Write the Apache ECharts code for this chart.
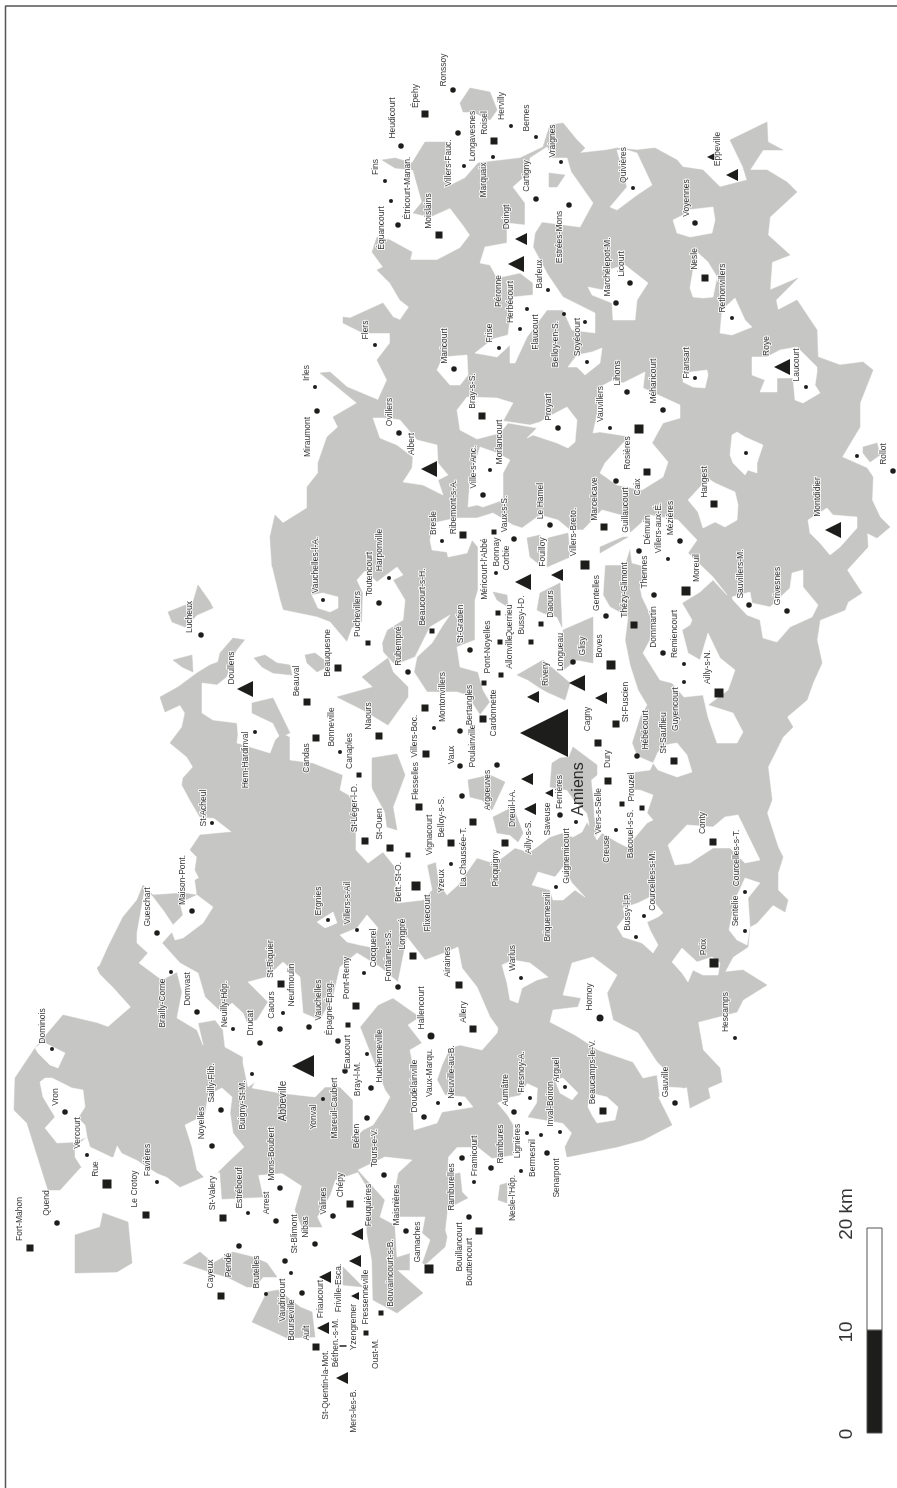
<!DOCTYPE html>
<html>
<head>
<meta charset="utf-8">
<style>
  html, body { margin: 0; padding: 0; background: #fff; }
  #map { width: 897px; height: 1488px; }
</style>
<script src="https://cdn.jsdelivr.net/npm/echarts@6/dist/echarts.min.js"></script>
</head>
<body>
<div id="map"></div>
<script>

// gray land, main outline
const landOutline = [[14,1110],[15,1078],[35,1048],[63,1015],[97,1023],[108,1027],[131,1007],[113,987],[100,974],[97,968],[100,965],[108,947],[123,917],[137,900],[143,885],[153,895],[183,893],[197,895],[195,880],[199,878],[195,870],[197,857],[190,850],[200,835],[232,832],[214,818],[200,817],[190,800],[182,785],[183,778],[193,767],[187,757],[170,743],[182,727],[185,713],[180,705],[165,712],[160,697],[178,687],[197,673],[210,665],[218,662],[220,653],[233,638],[245,640],[272,567],[270,537],[275,515],[283,523],[307,508],[307,487],[318,473],[318,463],[327,437],[338,427],[333,417],[357,403],[335,385],[320,373],[330,372],[347,387],[378,400],[387,380],[377,360],[390,343],[390,333],[363,333],[343,323],[343,317],[350,318],[383,303],[393,317],[400,320],[409,307],[400,300],[390,283],[377,270],[383,267],[372,252],[377,237],[390,240],[412,252],[410,260],[437,260],[460,248],[470,235],[463,225],[450,208],[430,217],[413,213],[422,202],[413,170],[395,168],[382,160],[395,158],[412,163],[425,142],[447,142],[447,187],[465,178],[478,163],[520,158],[543,147],[550,125],[563,123],[577,140],[585,148],[580,153],[607,150],[617,148],[637,150],[655,148],[677,160],[683,167],[703,170],[720,187],[747,180],[743,167],[730,140],[767,122],[768,142],[783,150],[763,150],[750,170],[767,170],[787,182],[797,192],[770,217],[768,235],[790,255],[772,262],[770,290],[798,278],[776,300],[778,310],[797,300],[817,330],[818,357],[840,365],[863,362],[873,370],[860,403],[860,427],[842,457],[867,468],[873,477],[872,500],[880,517],[890,527],[877,538],[867,533],[868,547],[847,570],[862,593],[848,602],[845,610],[820,620],[817,640],[822,663],[813,683],[807,700],[787,717],[793,727],[783,737],[768,767],[772,800],[767,813],[778,847],[783,857],[778,873],[778,890],[788,900],[785,912],[773,905],[757,923],[750,927],[748,947],[733,957],[725,972],[743,970],[767,985],[743,1000],[737,1012],[698,1022],[703,1050],[720,1068],[722,1082],[708,1088],[710,1098],[690,1108],[687,1087],[658,1097],[672,1125],[643,1140],[617,1147],[567,1157],[565,1147],[572,1133],[563,1123],[528,1117],[537,1103],[538,1088],[527,1083],[520,1095],[510,1097],[497,1103],[507,1115],[513,1125],[513,1155],[492,1158],[478,1147],[457,1147],[448,1157],[447,1190],[447,1213],[445,1230],[447,1237],[445,1247],[427,1263],[410,1270],[397,1270],[423,1293],[397,1313],[373,1300],[372,1260],[367,1233],[366,1215],[372,1195],[358,1172],[335,1180],[330,1195],[317,1217],[322,1227],[302,1227],[295,1210],[302,1186],[282,1173],[258,1175],[263,1197],[222,1199],[220,1172],[203,1177],[180,1187],[167,1177],[157,1173],[137,1160],[122,1153],[117,1145],[113,1157],[97,1160],[80,1168],[60,1190],[48,1190],[37,1155],[27,1123]]

// white clearings cut out of the land
const clearingDominois = [[35,1048],[43,1042],[65,1053],[58,1068],[50,1065],[38,1053]]
const clearingVron = [[40,1082],[45,1078],[52,1078],[72,1088],[83,1090],[85,1107],[78,1118],[85,1125],[87,1137],[75,1142],[57,1143],[45,1128],[55,1117],[43,1097]]
const clearingRue = [[75,1147],[87,1137],[90,1147],[113,1158],[97,1160],[82,1168],[75,1157]]
const clearingNoyelles = [[185,1125],[205,1115],[208,1095],[222,1088],[232,1097],[230,1113],[233,1133],[244,1147],[227,1163],[217,1173],[205,1178],[197,1170],[192,1147]]
const clearingAbbeville = [[145,888],[153,897],[163,910],[173,925],[183,915],[180,903],[197,895],[213,907],[203,923],[183,938],[175,940],[172,932],[162,943],[180,963],[198,973],[205,997],[222,1013],[232,1003],[243,1013],[247,1023],[257,1020],[268,1002],[248,982],[267,977],[283,962],[300,977],[303,1013],[320,1020],[333,997],[340,967],[357,953],[380,967],[398,982],[407,937],[425,960],[447,952],[458,947],[462,968],[477,987],[490,1017],[498,1028],[497,1033],[482,1050],[460,1045],[450,1048],[442,1065],[437,1080],[445,1095],[465,1097],[473,1107],[442,1112],[437,1123],[414,1130],[412,1100],[413,1065],[410,1050],[422,1043],[408,1025],[420,1017],[393,998],[378,1005],[360,1027],[385,1090],[390,1097],[383,1110],[373,1125],[363,1130],[353,1140],[353,1100],[340,1087],[325,1087],[315,1097],[280,1093],[252,1088],[255,1082],[248,1087],[243,1063],[243,1057],[225,1047],[223,1030],[215,1020],[198,1023],[203,1045],[197,1030],[177,1018],[182,992],[177,972],[162,980],[139,963],[148,953],[137,943],[137,933]]
const clearingErgnies = [[317,922],[333,912],[337,923],[325,928]]
const clearingVillersAil = [[340,935],[357,928],[367,915],[378,928],[370,947],[360,945],[347,942]]
const clearingGamaches = [[358,1170],[385,1157],[412,1160],[398,1173],[393,1200],[397,1217],[425,1217],[422,1233],[430,1240],[422,1263],[433,1272],[410,1272],[410,1253],[397,1257],[395,1225],[380,1217],[385,1200]]
const clearingCentre = [[202,683],[217,685],[227,677],[232,660],[237,650],[245,640],[250,610],[262,562],[272,567],[280,600],[283,610],[317,617],[330,622],[347,642],[352,628],[362,622],[363,593],[357,580],[365,571],[377,582],[397,567],[403,575],[393,580],[405,600],[403,620],[387,630],[382,643],[383,652],[395,665],[415,657],[430,627],[450,615],[443,625],[432,643],[417,657],[414,672],[427,692],[457,692],[467,695],[480,715],[490,702],[483,690],[478,672],[460,667],[457,647],[475,640],[475,600],[478,590],[478,547],[472,540],[467,553],[448,557],[447,552],[432,550],[430,540],[433,523],[457,518],[477,518],[493,513],[513,525],[522,528],[540,515],[558,520],[570,530],[583,530],[602,510],[628,517],[630,533],[650,515],[678,520],[697,540],[688,553],[713,577],[727,595],[713,580],[700,592],[682,603],[692,620],[690,625],[682,630],[688,653],[700,660],[708,633],[720,658],[735,670],[728,690],[708,705],[733,713],[743,732],[737,743],[717,743],[708,717],[703,695],[684,697],[672,683],[660,680],[643,653],[650,640],[653,620],[642,597],[640,587],[647,567],[632,563],[630,548],[625,565],[605,565],[603,595],[610,607],[628,617],[625,640],[630,665],[638,690],[647,705],[640,717],[632,743],[637,756],[653,763],[658,770],[677,777],[692,772],[687,755],[677,743],[665,745],[658,752],[650,770],[627,773],[632,790],[640,790],[653,795],[647,813],[653,820],[647,823],[627,847],[617,842],[602,833],[597,840],[587,822],[582,832],[573,837],[562,833],[550,837],[537,847],[528,853],[522,850],[515,848],[502,858],[490,862],[477,858],[458,885],[447,895],[439,883],[436,862],[427,865],[432,890],[423,900],[397,903],[395,867],[383,852],[368,863],[356,850],[356,818],[352,797],[340,790],[343,775],[313,763],[290,760],[290,737],[282,733],[275,740],[270,753],[237,743],[238,735],[237,723],[213,720],[202,713]]
const clearingVauchelles = [[312,595],[323,593],[338,597],[338,608],[330,612],[318,608]]
const clearingAlbert = [[373,418],[387,418],[400,420],[417,440],[437,445],[438,463],[448,475],[438,480],[443,495],[423,485],[403,482],[412,468],[413,457],[397,445],[380,438]]
const clearingBray = [[457,410],[467,397],[497,398],[513,403],[503,421],[530,425],[540,422],[548,417],[567,407],[577,420],[575,442],[568,448],[557,443],[533,435],[527,438],[537,428],[508,423],[500,433],[477,439],[460,430]]
const clearingMaricourt = [[437,370],[443,357],[467,355],[468,375],[460,385],[450,385]]
const clearingPeronne = [[475,353],[493,339],[508,335],[513,297],[533,295],[533,283],[520,273],[497,278],[490,265],[480,263],[485,247],[507,243],[507,223],[525,225],[525,203],[513,187],[532,170],[550,168],[572,173],[593,203],[580,227],[542,222],[535,233],[533,247],[548,275],[563,297],[595,313],[595,333],[572,330],[563,310],[547,310],[527,337],[515,363],[510,363],[510,345],[497,357]]
const clearingVraignes = [[530,158],[547,147],[552,158],[567,158],[572,175],[530,172]]
const clearingQuivieres = [[617,150],[627,150],[637,153],[652,185],[637,195],[617,210],[610,207],[627,187]]
const clearingVoyennes = [[673,220],[683,215],[687,210],[713,207],[715,220],[712,233],[690,237],[677,233]]
const clearingLicourt = [[588,287],[603,290],[608,270],[625,265],[648,283],[637,300],[635,320],[613,320],[612,303],[592,295]]
const clearingNesle = [[690,288],[693,270],[697,252],[708,262],[717,277],[713,297],[703,298],[693,297]]
const clearingRethonvillers = [[720,333],[722,310],[735,298],[745,320],[752,327],[732,335]]
const clearingSoyecourt = [[568,367],[577,355],[592,352],[602,348],[600,363],[585,375],[577,367]]
const clearingFransart = [[683,373],[707,370],[708,375],[705,388],[693,387],[683,382]]
const clearingRoye = [[752,357],[767,357],[780,350],[797,347],[808,358],[817,367],[817,372],[815,385],[820,393],[803,403],[795,400],[793,378],[777,378],[777,392],[760,392],[765,380],[752,375]]
const clearingLihons = [[593,433],[597,415],[600,387],[613,380],[623,383],[645,372],[643,388],[680,405],[680,418],[663,423],[652,443],[668,462],[663,477],[642,490],[617,485],[600,473],[605,463],[623,443],[632,437],[600,432]]
const clearingHangest = [[688,500],[700,487],[707,478],[715,483],[735,492],[738,505],[737,520],[725,527],[715,522],[703,528],[698,512]]
const clearingPlessier = [[732,435],[737,432],[745,437],[763,445],[757,463],[757,473],[748,470],[745,475],[733,463],[730,455]]
const clearingMontdidier = [[808,520],[827,508],[833,515],[857,517],[857,528],[840,547],[830,555],[820,543],[810,533]]
const clearingGrivesnes = [[732,597],[750,592],[752,603],[770,607],[790,588],[792,573],[803,570],[803,587],[818,605],[812,617],[790,627],[777,642],[763,638],[760,620],[747,615],[733,600]]
const clearingConty = [[668,845],[687,825],[713,827],[725,817],[738,815],[760,860],[745,863],[730,848],[713,848],[690,863],[675,865]]
const clearingSentelie = [[745,878],[760,883],[748,898],[750,927],[747,945],[737,940],[729,930],[735,900]]
const clearingPoix = [[672,962],[682,948],[697,962],[712,957],[720,963],[718,975],[703,975],[693,970],[688,982],[682,973]]
const clearingBussy = [[617,927],[625,917],[623,908],[638,903],[650,897],[663,913],[658,917],[647,922],[650,930],[658,945],[653,953],[642,943],[623,937]]
const clearingWarlus = [[502,965],[513,960],[530,963],[548,977],[537,980],[522,988],[518,1003],[510,1000],[507,983]]
const clearingHornoy = [[550,1022],[553,1010],[578,1007],[581,998],[563,995],[572,963],[593,957],[617,975],[607,993],[613,1020],[638,1033],[657,1062],[663,1068],[667,1087],[683,1088],[687,1100],[660,1098],[657,1075],[643,1078],[633,1062],[598,1050],[575,1035]]
const clearingBeaucamps = [[588,1107],[590,1093],[607,1097],[618,1107],[615,1120],[597,1123],[592,1115]]
const clearingArguel = [[555,1080],[563,1078],[578,1093],[572,1100],[560,1093]]
const clearingBriquemesnil = [[532,885],[538,872],[555,877],[563,867],[572,883],[585,897],[575,890],[563,900],[553,900],[550,890]]
const clearingMorlancourt = [[468,507],[470,480],[480,447],[497,453],[510,460],[503,473],[503,500],[483,507],[477,505]]

// gray patches sitting on the white
const patchNaours = [[337,697],[373,687],[362,677],[388,658],[393,672],[408,687],[408,697],[388,725],[363,710]]
const patchBeauquesne = [[305,655],[315,653],[327,662],[325,668],[317,672],[307,663]]
const patchDoullensA = [[254,658],[265,655],[277,663],[290,665],[292,675],[273,673],[262,667]]
const patchDoullensB = [[252,703],[273,698],[290,733],[280,737],[273,723],[252,713]]
const patchDoullensC = [[173,660],[192,655],[193,672],[182,667]]
const patchLucheux = [[168,612],[193,602],[198,585],[210,602],[213,608],[197,615],[185,627],[172,622]]
const patchFlesselles = [[372,758],[397,754],[405,775],[393,807],[397,830],[387,827],[385,812],[373,790],[372,787]]
const patchRivery = [[517,675],[543,660],[570,683],[565,700],[547,692],[540,688],[528,680]]
const patchDaours = [[537,610],[540,593],[560,583],[562,627],[557,617],[543,613]]
const patchGlisy = [[563,630],[593,617],[593,663],[577,660],[563,670]]
const patchQuerrieu = [[493,592],[507,595],[508,607],[497,600]]
const patchArgoeuves = [[468,780],[490,775],[505,782],[492,810],[482,800],[470,797]]
const patchDreuil = [[493,817],[513,807],[523,833],[518,842],[510,835],[497,833]]
const patchFerrieres = [[552,763],[560,758],[569,757],[573,747],[597,765],[597,775],[591,780],[593,800],[594,817],[597,835],[590,835],[589,821],[587,813],[574,800],[567,790],[555,788],[550,787]]
const patchMarcelcave = [[600,547],[623,537],[628,537],[600,553]]
const patchFouilloyA = [[527,538],[540,535],[540,565],[530,557]]
const patchFouilloyB = [[548,538],[568,533],[570,557],[547,567]]
const patchVraignes = [[549,173],[565,175],[557,187],[549,187]]
const patchRonssoy = [[460,103],[470,88],[490,92],[497,110],[490,120],[473,112],[463,112]]
const patchRollot = [[863,447],[877,443],[880,455],[870,462],[863,453]]
const patchRamburelles = [[447,1175],[460,1173],[462,1192],[468,1198],[450,1207],[447,1207]]
const patchNesleHop = [[500,1185],[507,1183],[507,1203],[498,1200]]
const patchHourdel = [[75,1235],[100,1227],[103,1213],[128,1222],[132,1263],[117,1272],[75,1273]]
const patchBrutelles = [[183,1263],[200,1252],[213,1263],[233,1252],[253,1257],[267,1263],[277,1277],[263,1277],[255,1287],[247,1287],[227,1277],[213,1273]]
const patchVaudricourt = [[252,1322],[267,1292],[278,1290],[300,1307],[312,1312],[315,1337],[287,1338]]
const patchFriville = [[343,1267],[363,1287],[343,1285]]

// towns, by kind of mark
const dotsSmall = [[52,1049],[87,1155],[157,1182],[248,1213],[291,1273],[266,1294],[252,1074],[323,1099],[367,1054],[283,1013],[233,1029],[171,972],[212,823],[364,973],[357,930],[328,920],[438,1103],[460,1104],[530,1098],[565,1087],[560,1132],[527,1133],[541,1135],[474,1182],[521,1171],[521,978],[434,728],[340,752],[576,822],[556,887],[616,830],[636,937],[644,916],[745,892],[745,931],[735,1038],[684,664],[684,682],[668,559],[695,378],[610,428],[746,453],[857,456],[806,387],[315,387],[323,600],[389,578],[442,541],[496,573],[490,470],[375,345],[499,348],[520,329],[527,309],[548,290],[564,314],[585,322],[587,362],[561,162],[536,137],[511,126],[493,157],[464,166],[385,181],[391,201],[633,188],[732,318],[451,864],[255,732]]
const dotsMedium = [[65,1112],[57,1223],[212,1146],[221,1110],[239,1246],[276,1221],[280,1188],[285,1261],[315,1244],[302,1293],[333,1216],[384,1175],[406,1231],[345,1071],[338,1041],[371,1088],[367,1118],[260,1043],[280,1029],[309,1027],[197,1012],[157,933],[192,911],[398,987],[424,1117],[514,1112],[675,1103],[462,1158],[491,1168],[547,1153],[469,1217],[460,766],[460,731],[462,796],[497,765],[560,815],[637,756],[573,662],[606,616],[550,525],[616,481],[627,392],[663,410],[639,551],[680,541],[654,595],[663,653],[749,605],[787,611],[893,471],[317,411],[399,433],[379,603],[408,672],[470,650],[483,495],[514,539],[454,369],[558,428],[569,205],[536,199],[458,133],[453,90],[401,146],[398,225],[616,303],[630,283],[695,223],[201,635]]
const dotsLarge = [[431,1036],[600,1018]]
const squaresSmall = [[348,1025],[366,1333],[381,1313],[359,775],[408,855],[622,804],[642,808],[432,631],[368,643],[531,642],[541,624],[498,613],[500,642],[484,683],[494,532],[501,675]]
const squaresMedium = [[30,1248],[146,1215],[223,1218],[221,1296],[316,1347],[350,1204],[281,984],[356,1006],[413,956],[459,985],[473,1029],[307,702],[316,738],[338,668],[379,736],[419,807],[426,754],[425,708],[483,719],[505,843],[365,841],[390,848],[451,843],[473,822],[608,781],[598,743],[616,724],[674,761],[604,527],[482,416],[439,235],[494,141],[425,114],[705,278],[714,504],[603,1111],[713,842],[479,1231],[634,625],[647,472],[463,535]]
const squaresLarge = [[107,1184],[429,1269],[416,886],[686,591],[585,565],[611,665],[639,429],[719,693],[714,963]]
const dashBethen = [[343,1346]]
const trianglesSmall = [[711,157],[549,793],[355,1296]]
const trianglesMedium = [[521,239],[732,175],[323,1328],[601,698],[557,575],[527,779],[530,809],[533,697],[357,1234],[355,1261],[342,1378],[325,1277]]
const trianglesLarge = [[516,264],[782,367],[523,582],[833,530],[245,689],[577,683],[429,469]]
const triangleAbbeville = [[303,1066]]
const triangleAmiens = [[544,733]]

// names (name, x, y of the middle of the text)
const townNames = [['Dominois',43,1026],['Vron',56,1097],['Vercourt',78,1133],['Rue',96,1169],['Quend',47,1203],['Fort-Mahon',20,1219],['Le Crotoy',135,1189],['Favières',148,1160],['St-Valery',213,1193],['Noyelles',202,1123],['Sailly-Flib.',212,1083],['Buigny-St-M.',243,1105],['Estréboeuf',240,1188],['Arrest',267,1203],['Mons-Boubert',272,1154],['Cayeux',211,1274],['Pendé',229,1265],['Brutelles',257,1272],['St-Blimont',295,1234],['Nibas',306,1227],['Vaudricourt',283,1300],['Bourseville',292,1320],['Ault',307,1333],['Friaucourt',321,1299],['Friville-Esca.',339,1288],['Valines',324,1201],['Chépy',341,1185],['Feuquières',369,1205],['Tours-e-V.',375,1148],['Maisnières',397,1205],['Gamaches',418,1242],['Bouvaincourt-s-B.',391,1273],['Fressenneville',366,1297],['Yzengremer',354,1327],['Oust-M.',376,1354],['Béthen.-s-M.',336,1343],['St-Quentin-la-Mot.',326,1385],['Mers-les-B.',354,1411],['Bray-l-M.',358,1079],['Huchenneville',380,1056],['Eaucourt',348,1052],['Yonval',314,1117],['Mareuil-Caubert',335,1108],['Béhen',357,1136],['Drucat',251,1023],['Caours',272,1005],['Neufmoulin',292,985],['Neuilly-Hôp.',225,1004],['Domvast',188,989],['Brailly-Corne',163,1003],['Gueschart',148,907],['Maison-Pont.',183,880],['St-Acheul',204,808],['St-Riquier',271,959],['Vauchelles',319,1000],['Épagne-Épag.',330,1008],['Pont-Remy',347,978],['Cocquerel',374,948],['Fontaine-s-S.',389,956],['Villers-s-Ail',348,903],['Ergnies',319,901],['Longpré',403,934],['Airaines',448,962],['Allery',464,1012],['Hallencourt',422,1008],['Warlus',513,958],['Hornoy',590,997],['Flixecourt',428,913],['Yzeux',442,881],['La Chaussée-T.',464,857],['Belloy-s-S.',442,817],['Vignacourt',430,835],['St-Ouen',380,824],['Bett.-St-O.',399,882],['St-Léger-l-D.',355,808],['Canaples',350,751],['Bonneville',332,727],['Candas',307,758],['Beauval',297,681],['Beauquesne',328,653],['Naours',369,716],['Flesselles',416,781],['Villers-Boc.',415,736],['Montonvillers',443,697],['Vaux',452,755],['Poulainville',473,746],['Bertangles',470,705],['Cardonnette',494,713],['Argoeuves',488,790],['Picquigny',496,868],['Dreuil-l-A.',513,808],['Ailly-s-S.',529,837],['Saveuse',548,819],['Ferrières',560,792],['Guignemicourt',567,856],['Briquemesnil',548,917],['Vers-s-Selle',599,811],['Creuse',607,849],['Bacouel-s-S.',631,834],['Prouzel',632,787],['Dury',608,759],['Cagny',588,719],['St-Fuscien',626,702],['Rivery',546,674],['Hébécourt',646,730],['St-Sauflieu',664,733],['Guyencourt',676,709],['Longueau',561,652],['Glisy',583,646],['Boves',600,646],['Thézy-Glimont',625,590],['Gentelles',597,593],['Daours',551,604],['Bussy-l-D.',522,615],['Querrieu',510,621],['Allonville',510,652],['Pont-Noyelles',488,647],['St-Gratien',461,624],['Méricourt-l\'Abbé',485,569],['Bonnay',497,552],['Corbie',507,558],['Vaux-s-S.',505,514],['Ribemont-s-A.',454,507],['Bresle',434,523],['Fouilloy',543,552],['Villers-Breto.',574,532],['Le Hamel',541,501],['Marcelcave',595,499],['Guillaucourt',626,510],['Rosières',628,453],['Caix',638,487],['Vauvillers',601,404],['Lihons',618,373],['Méharicourt',654,381],['Fransart',687,363],['Hangest',705,482],['Démuin',648,530],['Villers-aux-É.',659,528],['Mézières',671,518],['Thennes',645,572],['Moreuil',697,568],['Dommartin',654,627],['Remiencourt',675,634],['Ailly-s-N.',708,667],['Sauvillers-M.',741,574],['Grivesnes',778,586],['Montdidier',818,497],['Rollot',884,454],['Roye',767,346],['Laucourt',797,365],['Albert',412,444],['Ovillers',390,412],['Miraumont',308,437],['Irles',307,373],['Vauchelles-l-A.',316,565],['Toutencourt',370,574],['Harponville',380,550],['Puchevillers',358,614],['Beaucourt-s-H.',423,597],['Rubempré',399,646],['Ville-s-Anc.',474,467],['Morlancourt',500,442],['Bray-s-S.',473,391],['Proyart',549,407],['Maricourt',445,346],['Flers',366,330],['Frise',490,333],['Herbécourt',511,302],['Péronne',499,291],['Doingt',507,217],['Flaucourt',536,332],['Barleux',540,274],['Belloy-en-S.',556,344],['Soyécourt',578,337],['Estrées-Mons',560,237],['Cartigny',527,176],['Vraignes',553,141],['Bernes',527,118],['Hervilly',502,106],['Roisel',485,123],['Marquaix',484,180],['Longavesnes',473,136],['Villers-Fauc.',449,163],['Épehy',416,96],['Ronssoy',444,70],['Heudicourt',393,118],['Fins',376,167],['Étricourt-Manan.',408,188],['Équancourt',382,228],['Moislains',429,211],['Quivières',624,165],['Voyennes',687,198],['Eppeville',718,149],['Marchélepot-M.',608,267],['Licourt',622,264],['Nesle',695,259],['Rethonvillers',723,288],['Doudelainville',415,1086],['Vaux-Marqu.',430,1073],['Neuville-au-B.',452,1072],['Aumâtre',506,1090],['Fresnoy-A.',522,1072],['Arguel',557,1070],['Inval-Boiron',551,1104],['Beaucamps-le-V.',593,1072],['Gauville',666,1082],['Hescamps',726,1012],['Poix',704,947],['Sentelie',736,911],['Courcelles-s-T.',737,858],['Conty',703,823],['Bussy-l-P.',628,912],['Courcelles-s-M.',653,881],['Ramburelles',452,1187],['Framicourt',475,1156],['Rambures',501,1144],['Lignières',518,1141],['Bermesnil',533,1158],['Senarpont',557,1178],['Nesle-l\'Hôp.',513,1198],['Bouillancourt',460,1247],['Bouttencourt',470,1262],['Hem-Hardinval',246,760],['Doullens',232,668],['Lucheux',190,617]]
const cityNameAbbeville = [['Abbeville',283,1101]]
const cityNameAmiens = [['Amiens',579,789]]

// frame and scale bar
const frameLine = [[897,6],[5.5,6],[5.5,1488]]
const scaleKm = [0, 10, 20]
const scaleBarY = [1433, 1330, 1228]
const scaleNames = [['0',847,1434],['10',847,1332],['20 km',847,1214]]

const INK = '#1d1d1b'
const LAND = '#c6c6c5'

const clearings = [clearingDominois, clearingVron, clearingRue, clearingNoyelles, clearingAbbeville, clearingErgnies, clearingVillersAil, clearingGamaches, clearingCentre, clearingVauchelles, clearingAlbert, clearingBray, clearingMaricourt, clearingPeronne, clearingVraignes, clearingQuivieres, clearingVoyennes, clearingLicourt, clearingNesle, clearingRethonvillers, clearingSoyecourt, clearingFransart, clearingRoye, clearingLihons, clearingHangest, clearingPlessier, clearingMontdidier, clearingGrivesnes, clearingConty, clearingSentelie, clearingPoix, clearingBussy, clearingWarlus, clearingHornoy, clearingBeaucamps, clearingArguel, clearingBriquemesnil, clearingMorlancourt]
const patches = [patchNaours, patchBeauquesne, patchDoullensA, patchDoullensB, patchDoullensC, patchLucheux, patchFlesselles, patchRivery, patchDaours, patchGlisy, patchQuerrieu, patchArgoeuves, patchDreuil, patchFerrieres, patchMarcelcave, patchFouilloyA, patchFouilloyB, patchVraignes, patchRonssoy, patchRollot, patchRamburelles, patchNesleHop, patchHourdel, patchBrutelles, patchVaudricourt, patchFriville]

// ? one polygon per data row, through the axes
function areaSeries(polygons, color) {
  return {
    type: 'custom',
    silent: true,
    animation: false,
    clip: false,
    data: polygons.map((p, i) => [i, 0]),
    renderItem: (params, api) => ({
      type: 'polygon',
      shape: { points: polygons[api.value(0)].map(pt => api.coord(pt)) },
      style: { fill: color, stroke: color, lineWidth: 0.5 }
    })
  }
}

function nameSeries(names, fontSize) {
  return {
    type: 'scatter',
    silent: true,
    symbolSize: 1,
    itemStyle: { color: 'transparent' },
    data: names.map(n => [n[1], n[2], n[0]]),
    label: {
      show: true,
      position: 'inside',
      rotate: 90,
      formatter: p => p.value[2],
      fontFamily: 'Liberation Sans',
      fontSize: fontSize,
      color: '#000',
      textBorderColor: '#fff',
      textBorderWidth: fontSize > 12 ? 0 : 2
    }
  }
}

function markSeries(points, symbol, size) {
  return {
    type: 'scatter',
    silent: true,
    symbol: symbol,
    symbolSize: size,
    symbolRotate: symbol === 'triangle' ? 90 : 0,
    itemStyle: { color: INK, opacity: 1 },
    data: points
  }
}

const map = echarts.init(document.getElementById('map'), null, { renderer: 'canvas' })

const mapOption = {
  animation: false,
  backgroundColor: '#fff',
  grid: { left: 0, right: 0, top: 0, bottom: 0 },
  xAxis: { type: 'value', min: 0, max: 897, show: false },
  yAxis: { type: 'value', min: 0, max: 1488, inverse: true, show: false },
  series: [
    areaSeries([landOutline], LAND),
    areaSeries(clearings, '#fff'),
    areaSeries(patches, LAND),
    nameSeries(townNames, 8.5),
    nameSeries(cityNameAbbeville, 10),
    nameSeries(cityNameAmiens, 16),
    nameSeries(scaleNames, 19),
    markSeries(dotsSmall, 'circle', 4),
    markSeries(dotsMedium, 'circle', 5.5),
    markSeries(dotsLarge, 'circle', 7),
    markSeries(squaresSmall, 'rect', 5),
    markSeries(squaresMedium, 'rect', 7),
    markSeries(squaresLarge, 'rect', 9),
    markSeries(dashBethen, 'rect', [7, 1.5]),
    markSeries(trianglesSmall, 'triangle', 8),
    markSeries(trianglesMedium, 'triangle', 12),
    markSeries(trianglesLarge, 'triangle', 16),
    markSeries(triangleAbbeville, 'triangle', 22),
    markSeries(triangleAmiens, 'triangle', 48),
    {
      type: 'line',
      silent: true,
      showSymbol: false,
      data: frameLine,
      lineStyle: { color: '#555', width: 1.5 }
    },
    // scale bar, first 10 km black, next 10 km white
    {
      type: 'custom',
      silent: true,
      data: scaleKm.slice(1).map((km, i) => [i]),
      renderItem: (params, api) => {
        const i = api.value(0)
        const a = api.coord([867, scaleBarY[i]])
        const b = api.coord([882, scaleBarY[i + 1]])
        return {
          type: 'rect',
          shape: { x: a[0], y: b[1], width: b[0] - a[0], height: a[1] - b[1] },
          style: { fill: i === 0 ? INK : '#fff', stroke: '#555', lineWidth: 1 }
        }
      }
    }
  ]
}

map.setOption(mapOption)
</script>
</body>
</html>
